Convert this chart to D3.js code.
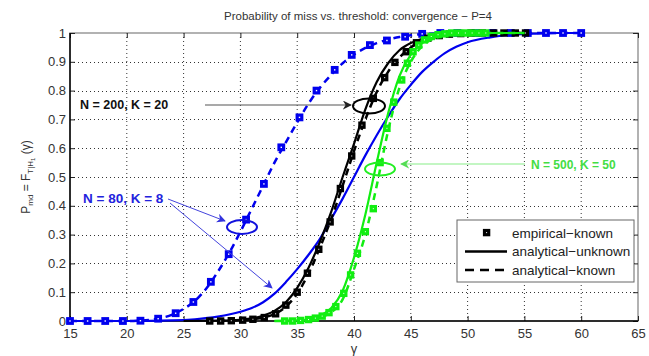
<!DOCTYPE html>
<html>
<head>
<meta charset="utf-8">
<script src="https://cdn.jsdelivr.net/npm/d3@7"></script>
<style>
    body { margin: 0; background: #fff; }
    .chart { width: 649px; height: 356px; }
    text { font-family: 'Liberation Sans', Arial, sans-serif; }
</style>
</head>
<body>
<div class="chart"></div>
<script>
const xTicks = [15, 20, 25, 30, 35, 40, 45, 50, 55, 60, 65];
const yTicks = [0, 0.1, 0.2, 0.3, 0.4, 0.5, 0.6, 0.7, 0.8, 0.9, 1];

// N = 80, K = 8 (blue)
const blueEmpX = [15, 16.55, 18.1, 19.66, 21.2, 22.76, 24.3, 25.86, 27.4, 28.97, 30.5, 32.07, 33.6, 35.2, 36.7,
    38.3, 39.8, 41.4, 42.9, 44.5, 46, 47.6, 49.1, 50.7, 52.2, 53.8, 55.3, 56.9, 58.4, 60];
const blueEmpY = [0, 0, 0, 0, 0.001, 0.008, 0.027, 0.066, 0.136, 0.232, 0.352, 0.476, 0.603, 0.707, 0.8,
    0.872, 0.924, 0.958, 0.974, 0.987, 0.997, 1, 1, 1, 1, 1, 1, 1, 1, 1];
const blueKnownX = [15, 18, 20, 21, 22, 23, 24, 25, 26, 27, 28, 29, 30, 31, 32, 33, 34, 35, 36, 37, 38, 39, 40,
    41, 42, 43, 44, 45, 46, 48, 50, 60];
const blueKnownY = [0, 0, 0, 0.001, 0.004, 0.01, 0.022, 0.042, 0.07, 0.113, 0.17, 0.235, 0.31, 0.39, 0.47, 0.55,
    0.62, 0.69, 0.755, 0.81, 0.855, 0.895, 0.925, 0.948, 0.965, 0.977, 0.986, 0.992, 0.996, 0.999, 1, 1];
const blueUnknownX = [15, 20, 24, 26, 28, 30, 31, 32, 33, 34, 35, 36, 37, 38, 39, 40, 41, 42, 43, 44, 45, 46, 47,
    48, 49, 50, 52, 54, 56, 58, 60];
const blueUnknownY = [0, 0, 0.002, 0.006, 0.015, 0.032, 0.045, 0.065, 0.095, 0.135, 0.18, 0.23, 0.285, 0.355,
    0.425, 0.5, 0.575, 0.645, 0.71, 0.77, 0.82, 0.865, 0.9, 0.93, 0.952, 0.968, 0.985, 0.994, 0.998, 1, 1];

// N = 200, K = 20 (black)
const blackEmpX = [27.3, 28.26, 29.2, 30.2, 31.1, 32.1, 33.1, 34, 35, 35.9, 36.9, 37.9, 38.8, 39.8, 40.7, 41.7,
    42.7, 43.6, 44.6, 45.5, 46.5, 47.5, 48.4, 49.4, 50.3, 51.3, 52.3, 53.2, 54.2, 55.1];
const blackEmpY = [0, 0, 0.001, 0.003, 0.006, 0.012, 0.025, 0.055, 0.1, 0.166, 0.249, 0.344, 0.46, 0.573, 0.68,
    0.773, 0.845, 0.898, 0.935, 0.966, 0.982, 0.991, 0.996, 0.998, 1, 1, 1, 1, 1, 1];
const blackKnownX = [27, 29, 30, 31, 32, 33, 34, 35, 36, 37, 38, 39, 40, 41, 42, 43, 44, 45, 46, 47, 48, 50, 52, 55];
const blackKnownY = [0, 0.001, 0.003, 0.006, 0.012, 0.024, 0.05, 0.095, 0.165, 0.255, 0.355, 0.47, 0.59, 0.7,
    0.795, 0.865, 0.915, 0.95, 0.972, 0.985, 0.993, 0.999, 1, 1];
const blackUnknownX = [25, 28, 30, 31, 32, 33, 34, 35, 36, 37, 38, 39, 40, 41, 42, 43, 44, 45, 46, 47, 48, 50, 52, 55];
const blackUnknownY = [0, 0.001, 0.004, 0.009, 0.018, 0.035, 0.065, 0.115, 0.185, 0.275, 0.38, 0.5, 0.615, 0.735,
    0.83, 0.895, 0.94, 0.965, 0.98, 0.99, 0.995, 0.999, 1, 1];

// N = 500, K = 50 (green)
const greenEmpX = [33.9, 34.6, 35.3, 36, 36.6, 37.2, 37.8, 38.4, 39.1, 39.7, 40.3, 41, 41.7, 42.3, 42.9, 43.5,
    44.2, 44.7, 45.2, 45.7, 46.2, 46.8, 47.4, 48, 48.6, 49.2, 49.8, 50.4, 51, 51.6];
const greenEmpY = [0, 0, 0.002, 0.005, 0.01, 0.017, 0.029, 0.05, 0.096, 0.16, 0.235, 0.31, 0.39, 0.55, 0.669,
    0.76, 0.837, 0.895, 0.935, 0.958, 0.976, 0.988, 0.994, 0.997, 1, 1, 1, 1, 1, 1];
const greenKnownX = [33, 35, 36, 37, 38, 39, 40, 41, 42, 43, 44, 45, 46, 47, 48, 49, 50, 52, 55];
const greenKnownY = [0, 0.001, 0.004, 0.012, 0.03, 0.075, 0.18, 0.3, 0.47, 0.66, 0.81, 0.9, 0.955, 0.98, 0.992,
    0.997, 0.999, 1, 1];
const greenUnknownX = [33, 35, 36, 37, 38, 39, 40, 41, 42, 43, 44, 45, 46, 47, 48, 49, 50, 55];
const greenUnknownY = [0, 0.002, 0.006, 0.018, 0.045, 0.105, 0.22, 0.37, 0.55, 0.72, 0.85, 0.925, 0.965, 0.985,
    0.994, 0.998, 1, 1];

const legendLabels = ['empirical\u2212known', 'analytical\u2212unknown', 'analytical\u2212known'];

(function () {
    'use strict';

    const margin = {
        'top': 33,
        'left': 70,
        'right': 11,
        'bottom': 35
    };
    const width = 649 - margin.left - margin.right;
    const height = 356 - margin.top - margin.bottom;

    const svg = d3.select('.chart').append('svg')
        .attr('width', 649)
        .attr('height', 356);

    const defs = svg.append('defs');
    const addArrow = function (id, color) {
        defs.append('marker').attr('id', id)
            .attr('viewBox', '0 0 10 10').attr('refX', 9).attr('refY', 5)
            .attr('markerWidth', 9).attr('markerHeight', 9)
            .attr('markerUnits', 'userSpaceOnUse')
            .attr('orient', 'auto')
            .append('path').attr('d', 'M0,0 L10,5 L0,10 L3,5 Z').attr('fill', color);
    };
    addArrow('arrBlue', '#3333dd');
    addArrow('arrBlack', '#222');
    addArrow('arrGreen', '#55dd55');

    const x = d3.scaleLinear().domain([15, 65]).range([0, width]);
    const y = d3.scaleLinear().domain([0, 1]).range([height, 0]);

    const holder = svg.append('g').attr('transform', 'translate(' + margin.left + ', ' + margin.top + ')');

    // grid
    holder.append('g').selectAll('line').data(xTicks.slice(1, -1))
        .enter().append('line')
        .attr('x1', function (d) { return x(d); }).attr('x2', function (d) { return x(d); })
        .attr('y1', 0).attr('y2', height)
        .attr('stroke', '#333').attr('stroke-width', 1).attr('stroke-dasharray', '1,3');
    holder.append('g').selectAll('line').data(yTicks.slice(1, -1))
        .enter().append('line')
        .attr('y1', function (d) { return Math.round(y(d)) + 0.5; }).attr('y2', function (d) { return Math.round(y(d)) + 0.5; })
        .attr('x1', 0).attr('x2', width)
        .attr('stroke', '#333').attr('stroke-width', 1).attr('stroke-dasharray', '1,3');

    // box
    holder.append('rect').attr('x', 0).attr('y', 0).attr('width', width).attr('height', height)
        .attr('fill', 'none').attr('stroke', '#999').attr('stroke-width', 1.5);

    const fmt = function (d) {
        return (d === 0 || d === 1) ? String(d) : d.toFixed(1);
    };

    const styleAxis = function (g) {
        g.select('.domain').remove();
        g.selectAll('line').attr('stroke', '#222');
        g.selectAll('text').attr('font-size', 13).attr('fill', '#333')
            .style('font-family', "'Liberation Sans', Arial, sans-serif");
    };

    holder.append('g').attr('transform', 'translate(0, ' + height + ')')
        .call(d3.axisBottom(x).tickValues(xTicks).tickSize(-5).tickPadding(8))
        .call(styleAxis);
    holder.append('g')
        .call(d3.axisLeft(y).tickValues(yTicks).tickFormat(fmt).tickSize(-5).tickPadding(4))
        .call(styleAxis);
    holder.append('g')
        .call(d3.axisTop(x).tickValues(xTicks).tickSize(-5).tickFormat(''))
        .call(styleAxis);
    holder.append('g').attr('transform', 'translate(' + width + ', 0)')
        .call(d3.axisRight(y).tickValues(yTicks).tickSize(-5).tickFormat(''))
        .call(styleAxis);

    holder.append('line').attr('x1', 0).attr('x2', 0).attr('y1', 0).attr('y2', height)
        .attr('stroke', '#000').attr('stroke-width', 1.5);
    holder.append('line').attr('x1', 0).attr('x2', width).attr('y1', height).attr('y2', height)
        .attr('stroke', '#000').attr('stroke-width', 1.5);

    const line = d3.line()
        .x(function (d) { return x(d[0]); })
        .y(function (d) { return y(d[1]); })
        .curve(d3.curveMonotoneX);

    const series = [
        { 'color': '#0000ee', 'size': 4.6, 'empX': blueEmpX, 'empY': blueEmpY, 'kx': blueKnownX, 'ky': blueKnownY, 'ux': blueUnknownX, 'uy': blueUnknownY },
        { 'color': '#000000', 'size': 4.2, 'empX': blackEmpX, 'empY': blackEmpY, 'kx': blackKnownX, 'ky': blackKnownY, 'ux': blackUnknownX, 'uy': blackUnknownY },
        { 'color': '#11ee11', 'size': 4.2, 'empX': greenEmpX, 'empY': greenEmpY, 'kx': greenKnownX, 'ky': greenKnownY, 'ux': greenUnknownX, 'uy': greenUnknownY }
    ];

    series.forEach(function (s) {
        holder.append('path').datum(d3.zip(s.ux, s.uy))
            .attr('fill', 'none').attr('stroke', s.color).attr('stroke-width', 2.2)
            .attr('d', line);
        holder.append('path').datum(d3.zip(s.kx, s.ky))
            .attr('fill', 'none').attr('stroke', s.color).attr('stroke-width', 2.5)
            .attr('stroke-dasharray', '7,5')
            .attr('d', line);
        holder.append('g').selectAll('rect').data(d3.zip(s.empX, s.empY))
            .enter().append('rect')
            .attr('x', function (d) { return x(d[0]) - s.size / 2; })
            .attr('y', function (d) { return y(d[1]) - s.size / 2; })
            .attr('width', s.size).attr('height', s.size)
            .attr('fill', '#fff').attr('stroke', s.color).attr('stroke-width', 3.2);
    });

    // annotations
    const notes = svg.append('g').attr('font-weight', 'bold').attr('font-size', 12.5);

    notes.append('text').attr('x', 80).attr('y', 109).attr('fill', '#111').text('N = 200, K = 20');
    notes.append('line').attr('x1', 205).attr('y1', 105).attr('x2', 351).attr('y2', 105)
        .attr('stroke', '#555').attr('stroke-width', 1.2).attr('marker-end', 'url(#arrBlack)');
    notes.append('ellipse').attr('cx', 369).attr('cy', 106).attr('rx', 16).attr('ry', 7.5)
        .attr('fill', 'none').attr('stroke', '#000').attr('stroke-width', 2);

    notes.append('text').attr('x', 83).attr('y', 203).attr('font-size', 13.5).attr('fill', '#2222dd').text('N = 80, K = 8');
    notes.append('line').attr('x1', 168).attr('y1', 199).attr('x2', 225).attr('y2', 221)
        .attr('stroke', '#4444dd').attr('stroke-width', 1).attr('marker-end', 'url(#arrBlue)');
    notes.append('line').attr('x1', 170).attr('y1', 203).attr('x2', 272).attr('y2', 288)
        .attr('stroke', '#4444dd').attr('stroke-width', 1).attr('marker-end', 'url(#arrBlue)');
    notes.append('ellipse').attr('cx', 242).attr('cy', 227).attr('rx', 15).attr('ry', 7)
        .attr('fill', 'none').attr('stroke', '#1111dd').attr('stroke-width', 2);

    notes.append('text').attr('x', 531).attr('y', 169).attr('font-size', 12).attr('fill', '#44dd44').text('N = 500, K = 50');
    notes.append('line').attr('x1', 525).attr('y1', 164).attr('x2', 401).attr('y2', 164)
        .attr('stroke', '#88ee88').attr('stroke-width', 1.2).attr('marker-end', 'url(#arrGreen)');
    notes.append('ellipse').attr('cx', 380).attr('cy', 169).attr('rx', 15).attr('ry', 6.5)
        .attr('fill', 'none').attr('stroke', '#22ee22').attr('stroke-width', 2);

    // legend
    const legend = svg.append('g').attr('transform', 'translate(457, 220)');
    legend.append('rect').attr('width', 177).attr('height', 62)
        .attr('fill', '#fff').attr('stroke', '#666').attr('stroke-width', 1);
    legend.append('rect').attr('x', 27.5).attr('y', 10.5).attr('width', 4.2).attr('height', 4.2)
        .attr('fill', '#fff').attr('stroke', '#000').attr('stroke-width', 3.2);
    legend.append('line').attr('x1', 8).attr('x2', 50).attr('y1', 31.5).attr('y2', 31.5)
        .attr('stroke', '#000').attr('stroke-width', 2.5);
    legend.append('line').attr('x1', 8).attr('x2', 50).attr('y1', 50).attr('y2', 50)
        .attr('stroke', '#000').attr('stroke-width', 2.5).attr('stroke-dasharray', '9,6');
    legend.selectAll('text.lab').data(legendLabels)
        .enter().append('text').attr('class', 'lab')
        .attr('x', 55)
        .attr('y', function (d, i) { return 17.5 + i * 18.5; })
        .attr('font-size', 13.5).attr('fill', '#222')
        .text(function (d) { return d; });

    // title and axis labels
    svg.append('text').attr('x', 358).attr('y', 20).attr('text-anchor', 'middle')
        .attr('font-size', 11.5).attr('fill', '#333')
        .text('Probability of miss vs. threshold: convergence \u2212 P=4');

    svg.append('text').attr('x', 354).attr('y', 353).attr('text-anchor', 'middle')
        .attr('font-size', 13).attr('fill', '#333').text('\u03b3');

    const ylab = svg.append('text').attr('transform', 'translate(30, 177) rotate(-90)')
        .attr('text-anchor', 'middle').attr('font-size', 12).attr('fill', '#333');
    ylab.append('tspan').text('P');
    ylab.append('tspan').attr('dy', 3).attr('font-size', 8).text('md');
    ylab.append('tspan').attr('dy', -3).text(' = F');
    ylab.append('tspan').attr('dy', 3).attr('font-size', 8).text('T|H');
    ylab.append('tspan').attr('dy', 2).attr('font-size', 6).text('1');
    ylab.append('tspan').attr('dy', -5).text(' (\u03b3)');
}());
</script>
</body>
</html>
